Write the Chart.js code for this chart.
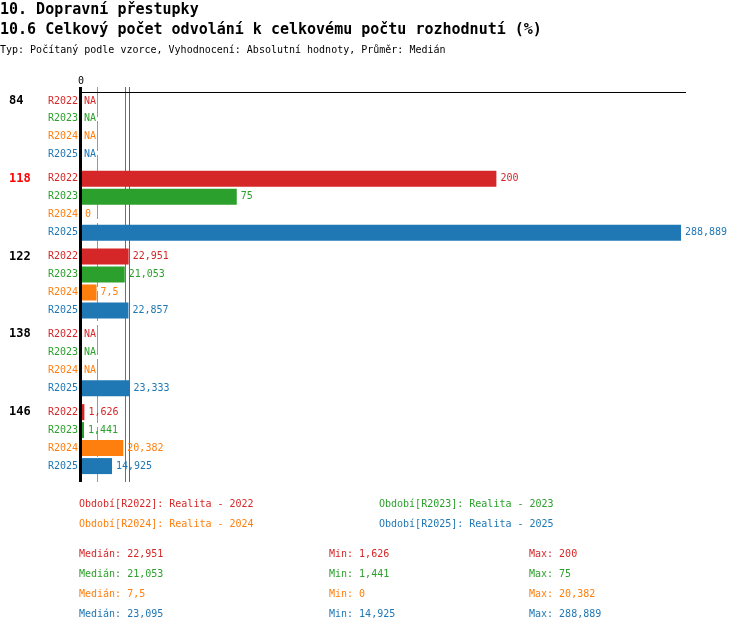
<!DOCTYPE html>
<html>
<head>
<meta charset="utf-8">
<script src="https://cdn.jsdelivr.net/npm/chart.js@4/dist/chart.umd.min.js"></script>
<style>
  body { margin: 0; background: #fff; }
  #wrap { position: relative; width: 750px; height: 632px; overflow: hidden; font-family: "DejaVu Sans Mono", monospace; }
  #chart { position: absolute; left: 0; top: 0; }
  .t { position: absolute; white-space: pre; line-height: 14px; }
  .h { font-size: 15px; font-weight: bold; line-height: 18px; }
  .s { font-size: 10px; }
</style>
</head>
<body>
<div id="wrap">
  <canvas id="chart" width="750" height="632"></canvas>
  <div class="t h" style="left:0;top:0">10. Dopravní přestupky</div>
  <div class="t h" style="left:0;top:20px">10.6 Celkový počet odvolání k celkovému počtu rozhodnutí (%)</div>
  <div class="t s" style="left:0;top:43px">Typ: Počítaný podle vzorce, Vyhodnocení: Absolutní hodnoty, Průměr: Medián</div>
  <div id="bottom"></div>
</div>
<script>
document.addEventListener('DOMContentLoaded', function() {
    const categories = ['84', '118', '122', '138', '146'];
    const seriesNames = ['R2022', 'R2023', 'R2024', 'R2025'];
    const seriesTitles = ['Realita - 2022', 'Realita - 2023', 'Realita - 2024', 'Realita - 2025'];
    const r2022 = [null, 200, 22.951, null, 1.626];
    const r2023 = [null, 75, 21.053, null, 1.441];
    const r2024 = [null, 0, 7.5, null, 20.382];
    const r2025 = [null, 288.889, 22.857, 23.333, 14.925];
    const xTicks = [0];
    const highlightCategory = '118';
    const colors = ['#d62728', '#2ca02c', '#ff7f0e', '#1f77b4'];

    const series = [r2022, r2023, r2024, r2025];
    const font = '"DejaVu Sans Mono", monospace';

    function fmt(v) {
        return String(Math.round(v * 1000) / 1000).replace('.', ',');
    }
    function median(arr) {
        const v = arr.filter(x => x !== null).sort((a, b) => a - b);
        const m = Math.floor(v.length / 2);
        return v.length % 2 ? v[m] : (v[m - 1] + v[m]) / 2;
    }
    function vals(arr) { return arr.filter(x => x !== null); }

    const medians = series.map(median);

    // legend + stats under the chart
    const bottom = document.getElementById('bottom');
    function addText(txt, x, y, color) {
        const d = document.createElement('div');
        d.className = 't s';
        d.style.left = x + 'px';
        d.style.top = y + 'px';
        d.style.color = color;
        d.textContent = txt;
        bottom.appendChild(d);
    }
    seriesNames.forEach((name, i) => {
        addText('Období[' + name + ']: ' + seriesTitles[i], 79 + (i % 2) * 300, 497 + Math.floor(i / 2) * 20, colors[i]);
        const y = 547 + i * 20;
        addText('Medián: ' + fmt(medians[i]), 79, y, colors[i]);
        addText('Min: ' + fmt(Math.min(...vals(series[i]))), 329, y, colors[i]);
        addText('Max: ' + fmt(Math.max(...vals(series[i]))), 529, y, colors[i]);
    });

    const overlay = {
        id: 'overlay',
        beforeDatasetsDraw(chart) {
            const ctx = chart.ctx;
            const a = chart.chartArea;
            const xs = chart.scales.x;
            ctx.save();
            // median lines
            medians.forEach((m, i) => {
                const x = Math.round(xs.getPixelForValue(m)) + 0.5;
                ctx.strokeStyle = colors[i];
                ctx.lineWidth = 1;
                ctx.setLineDash(i === 2 ? [30, 4] : []);
                ctx.beginPath();
                ctx.moveTo(x, a.top - 2);
                ctx.lineTo(x, a.bottom + 4);
                ctx.stroke();
            });
            ctx.restore();
        },
        afterDatasetsDraw(chart) {
            const ctx = chart.ctx;
            const a = chart.chartArea;
            const xs = chart.scales.x;
            const x0 = xs.getPixelForValue(0);
            ctx.save();
            // axes
            ctx.strokeStyle = '#000';
            ctx.lineWidth = 1;
            ctx.beginPath();
            ctx.moveTo(x0 - 1, a.top + 3.5);
            ctx.lineTo(a.right, a.top + 3.5);
            ctx.stroke();
            ctx.lineWidth = 3;
            ctx.beginPath();
            ctx.moveTo(x0 - 0.5, a.top - 2);
            ctx.lineTo(x0 - 0.5, a.bottom + 4);
            ctx.stroke();

            ctx.fillStyle = '#000';
            ctx.font = '10px ' + font;
            ctx.textAlign = 'center';
            ctx.textBaseline = 'middle';
            xTicks.forEach(t => ctx.fillText(String(t), xs.getPixelForValue(t), a.top - 8));

            // labels
            categories.forEach((cat, ci) => {
                const first = chart.getDatasetMeta(0).data[ci];
                ctx.font = 'bold 12px ' + font;
                ctx.textAlign = 'left';
                ctx.fillStyle = cat === highlightCategory ? '#ff0000' : '#000';
                ctx.fillText(cat, 9, first.y);
                series.forEach((s, si) => {
                    const bar = chart.getDatasetMeta(si).data[ci];
                    ctx.font = '10px ' + font;
                    ctx.fillStyle = colors[si];
                    ctx.textAlign = 'right';
                    ctx.fillText(seriesNames[si], 78, bar.y);
                    ctx.textAlign = 'left';
                    const v = s[ci];
                    if (v === null) {
                        ctx.fillText('NA', x0 + 3, bar.y);
                    } else {
                        ctx.fillText(fmt(v), xs.getPixelForValue(v) + 4, bar.y);
                    }
                });
            });
            ctx.restore();
        }
    };

    new Chart(document.getElementById('chart'), {
        type: 'bar',
        data: {
            labels: categories,
            datasets: series.map((s, i) => ({
                label: seriesNames[i],
                data: s,
                backgroundColor: colors[i],
                borderWidth: 0,
                categoryPercentage: 0.925,
                barPercentage: 0.89
            }))
        },
        options: {
            indexAxis: 'y',
            responsive: false,
            animation: false,
            layout: { padding: { left: 81, right: 64, top: 89, bottom: 154 } },
            scales: {
                x: { display: false, min: 0, max: 291.3 },
                y: { display: false }
            },
            plugins: { legend: { display: false }, tooltip: { enabled: false } }
        },
        plugins: [overlay]
    });
});
</script>
</body>
</html>
